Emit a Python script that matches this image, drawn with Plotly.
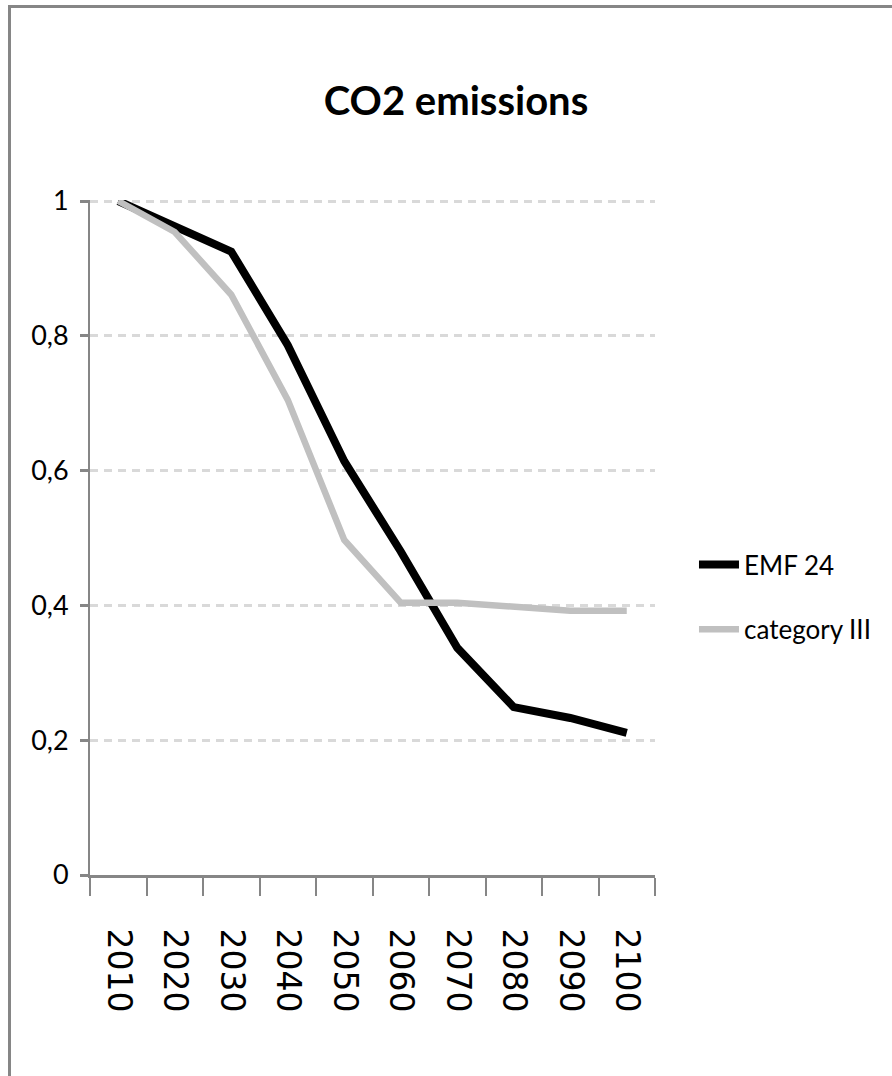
import plotly.graph_objects as go

# values
years = ["2010", "2020", "2030", "2040", "2050", "2060", "2070", "2080", "2090", "2100"]
emf24 = [1.0, 0.964, 0.925, 0.786, 0.614, 0.48, 0.337, 0.249, 0.233, 0.211]
category_iii = [1.0, 0.954, 0.861, 0.705, 0.497, 0.404, 0.404, 0.398, 0.392, 0.392]
y_ticks = [0, 0.2, 0.4, 0.6, 0.8, 1]

AXIS = "#868686"
GRID = "#d9d9d9"
NARROW = "Liberation Sans Narrow, Lato, sans-serif"

W, H = 892, 1076
L, R, T, B = 90, 237, 200, 201
pw, ph = W - L - R, H - T - B
Y_TOP = 1.0015

fig = go.Figure()

fig.add_trace(go.Scatter(
    x=years, y=emf24, name="EMF 24", mode="lines",
    line=dict(color="#000000", width=8),
    legendgroup="a",
))
fig.add_trace(go.Scatter(
    x=years, y=category_iii, name="category III", mode="lines",
    line=dict(color="#c0c0c0", width=6.5),
    legendgroup="b",
))

# outer chart border (only top and left edges fall inside the picture)
fig.add_shape(
    type="rect", xref="paper", yref="paper",
    x0=(9.5 - L) / pw, x1=(W + 20 - L) / pw,
    y0=-(B + 20) / ph, y1=(H - B - 6.5) / ph,
    line=dict(color=AXIS, width=3), layer="below",
)

fig.update_layout(
    width=W, height=H,
    margin=dict(l=L, r=R, t=T, b=B),
    paper_bgcolor="white", plot_bgcolor="white",
    separators=",.",
    title=dict(
        text="<b>CO2 emissions</b>",
        x=456 / W, xref="container", xanchor="center",
        y=1 - 101 / H, yref="container", yanchor="middle",
        font=dict(family=NARROW, size=40, color="#000000"),
    ),
    legend=dict(
        x=1.069, xanchor="left",
        y=(H - B - 541) / ph, yanchor="top",
        font=dict(family=NARROW, size=26, color="#000000"),
        tracegroupgap=28,
        itemwidth=40,
        bgcolor="rgba(0,0,0,0)",
    ),
    showlegend=True,
)

fig.update_xaxes(
    type="category",
    range=[-0.5, len(years) - 0.5],
    tickson="boundaries",
    ticks="outside", ticklen=18, tickwidth=2, tickcolor=AXIS,
    showline=True, linecolor=AXIS, linewidth=3,
    showgrid=False,
    tickangle=90,
    ticklabelstandoff=44,
    tickfont=dict(family="DejaVu Sans", size=33, color="#000000"),
)

fig.update_yaxes(
    range=[0, Y_TOP],
    tickvals=y_ticks,
    ticks="outside", ticklen=8, tickwidth=3, tickcolor=AXIS,
    showline=True, linecolor=AXIS, linewidth=2,
    showgrid=True, gridcolor=GRID, gridwidth=2.5, griddash="8px,6px",
    zeroline=False,
    ticklabelstandoff=6,
    tickfont=dict(family=NARROW, size=27, color="#000000"),
)

fig.update_traces(cliponaxis=False)

# drop the page margin so the figure sits at the window's top-left corner
fig.write_html(
    "out.html",
    config={"responsive": False, "displayModeBar": False},
    post_script="document.body.style.margin='0';document.body.style.overflow='hidden';",
)
